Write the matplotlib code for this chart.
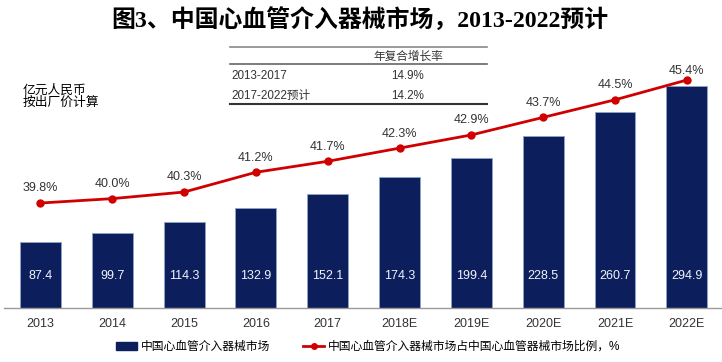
import matplotlib.pyplot as plt
from matplotlib.lines import Line2D
from matplotlib.patches import Patch

plt.rcParams['font.family'] = ['Liberation Sans', 'Noto Sans CJK SC', 'DejaVu Sans']

years = ["2013", "2014", "2015", "2016", "2017", "2018E", "2019E", "2020E", "2021E", "2022E"]
market = [87.4, 99.7, 114.3, 132.9, 152.1, 174.3, 199.4, 228.5, 260.7, 294.9]
share = [39.8, 40.0, 40.3, 41.2, 41.7, 42.3, 42.9, 43.7, 44.5, 45.4]
cagr_periods = ["2013-2017", "2017-2022预计"]
cagr_values = ["14.9%", "14.2%"]

navy = "#0c1f5c"
red = "#d00000"
txt = "#333333"


def main():
    fig = plt.figure(figsize=(7.22, 3.62), dpi=100)
    W, H = 722, 362

    def fx(px):
        return px / W

    def fy(py):
        return 1 - py / H

    ax = fig.add_axes([fx(4), fy(308), fx(718), fy(55) - fy(308)])
    x = list(range(len(years)))
    ax.bar(x, market, width=0.57, color=navy, edgecolor="#8fa3c8", linewidth=0.6, zorder=2)
    for xi, v in zip(x, market):
        ax.text(xi, 42.5, f"{v}", ha="center", va="center", color="#f2f4fa", fontsize=9)
    ax.set_ylim(0, 336.1)
    ax.set_xlim(-0.508, 9.49)
    ax.set_xticks(x)
    ax.set_xticklabels(years, fontsize=9, color=txt)
    ax.tick_params(axis="x", length=0, pad=7)
    ax.set_yticks([])
    for s in ["top", "right", "left"]:
        ax.spines[s].set_visible(False)
    ax.spines["bottom"].set_color("#999999")
    ax.spines["bottom"].set_linewidth(1.0)

    ax2 = ax.twinx()
    ax2.plot(x, share, color=red, linewidth=2, marker="o", markersize=5, zorder=3)
    for i, (xi, v) in enumerate(zip(x, share)):
        off = 6.5 if i == len(share) - 1 else 10.5
        ax2.annotate(f"{v}%", (xi, v), xytext=(0, off), textcoords="offset points",
                     ha="center", va="center", color=txt, fontsize=9)
    ax2.set_ylim(35.02, 46.54)
    ax2.set_yticks([])
    for s in ["top", "right", "left", "bottom"]:
        ax2.spines[s].set_visible(False)

    # title
    fig.text(fx(360), fy(20), "图3、中国心血管介入器械市场，2013-2022预计", ha="center", va="center",
             fontsize=17.2, fontweight="bold", family=["Liberation Serif", "Noto Sans CJK SC"],
             color="black")

    # unit note
    fig.text(fx(23), fy(97), "亿元人民币\n按出厂价计算", ha="left", va="center",
             fontsize=9.2, color="black", linespacing=1.0)

    # CAGR table
    fig.add_artist(Line2D([fx(230), fx(487)], [fy(47), fy(47)], color="#888888", linewidth=1.2))
    fig.text(fx(408), fy(57), "年复合增长率", ha="center", va="center", fontsize=8.4, color=txt)
    fig.add_artist(Line2D([fx(230), fx(487)], [fy(64), fy(64)], color="#666666", linewidth=1.2))
    row_y = [76, 96]
    for ry, p, v in zip(row_y, cagr_periods, cagr_values):
        fig.text(fx(231), fy(ry), p, ha="left", va="center", fontsize=8.4, color=txt)
        fig.text(fx(408), fy(ry), v, ha="center", va="center", fontsize=8.4, color=txt)
    fig.add_artist(Line2D([fx(230), fx(487)], [fy(104), fy(104)], color="#333333", linewidth=1.5))

    # legend
    handles = [Patch(facecolor=navy, edgecolor=navy),
               Line2D([], [], color=red, linewidth=2, marker="o", markersize=4)]
    labels = ["中国心血管介入器械市场", "中国心血管介入器械市场占中国心血管器械市场比例，%"]
    fig.legend(handles, labels, loc="center", bbox_to_anchor=(fx(368), fy(347)), ncol=2,
               frameon=False, fontsize=8.5, handlelength=1.8, handleheight=0.7,
               columnspacing=2.8, handletextpad=0.3)

    fig.savefig("out.png", dpi=100)


if __name__ == "__main__":
    main()
